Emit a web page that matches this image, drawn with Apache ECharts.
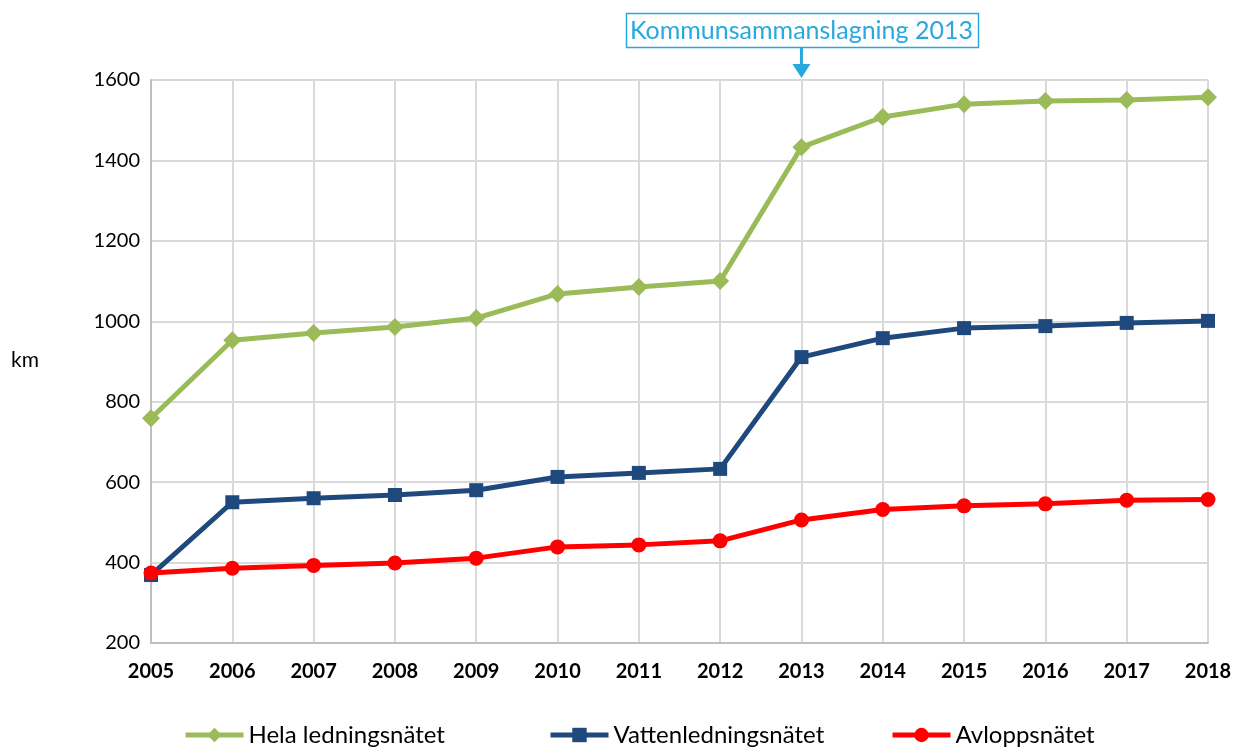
<!DOCTYPE html>
<html><head><meta charset="utf-8">
<script src="https://cdn.jsdelivr.net/npm/echarts@6/dist/echarts.min.js"></script>
<style>html,body{margin:0;padding:0;background:#fff}#c{width:1235px;height:754px}</style>
</head><body><div id="c"></div>
<script>
const years = ['2005','2006','2007','2008','2009','2010','2011','2012','2013','2014','2015','2016','2017','2018'];
const hela = [759,953,971,986,1008,1068,1085,1100,1433,1508,1540,1548,1550,1557];
const vatten = [369,550,560,568,580,613,623,633,911,958,983,988,996,1001];
const avlopp = [374,386,393,399,411,439,444,454,506,532,541,546,555,557];
const seriesNames = ['Hela ledningsnätet','Vattenledningsnätet','Avloppsnätet'];
const annotationYear = '2013';
const annotationText = 'Kommunsammanslagning 2013';
const FONT = 'Lato, "Open Sans", sans-serif';
const legendLefts = [178, 543, 885];

const chart = echarts.init(document.getElementById('c'));
chart.setOption({
  animation:false,
  grid:{left:151,right:27,top:80,bottom:111,containLabel:false},
  legend: seriesNames.map((n,i)=>({bottom:2,left:legendLefts[i],itemWidth:58,itemHeight:18,
    lineStyle:{width:5},
    textStyle:{fontFamily:FONT,fontSize:24,color:'#000'},data:[n]})),
  xAxis:{type:'category',data:years,boundaryGap:false,
    axisLine:{lineStyle:{color:'#bfbfbf',width:2}},axisTick:{show:false},
    axisLabel:{fontFamily:FONT,fontWeight:'bold',fontSize:20,color:'#000',margin:19},
    splitLine:{show:true,lineStyle:{color:'#d9d9d9',width:2}}},
  yAxis:{type:'value',min:200,max:1600,interval:200,
    axisLine:{show:true,lineStyle:{color:'#bfbfbf',width:2}},axisTick:{show:false},
    axisLabel:{fontFamily:FONT,fontSize:20,color:'#000',margin:11,formatter:v=>String(v)},
    splitLine:{lineStyle:{color:'#d9d9d9',width:2}}},
  series:[
    {name:seriesNames[0],type:'line',data:hela,symbol:'diamond',symbolSize:18,
     lineStyle:{width:5,color:'#9bbb59'},itemStyle:{color:'#9bbb59'}},
    {name:seriesNames[1],type:'line',data:vatten,symbol:'rect',symbolSize:14,
     lineStyle:{width:5,color:'#1f497d'},itemStyle:{color:'#1f497d'}},
    {name:seriesNames[2],type:'line',data:avlopp,symbol:'circle',symbolSize:15,
     lineStyle:{width:5,color:'#ff0000'},itemStyle:{color:'#ff0000'}}
  ]
});
const px = chart.convertToPixel({xAxisIndex:0}, annotationYear);
const topY = chart.convertToPixel({yAxisIndex:0}, 1600);
chart.setOption({graphic:[
  {type:'text',left:11,top:350,style:{text:'km',font:'21px '+FONT,fill:'#000'}},
  {type:'rect',shape:{x:626.5,y:13.5,width:352,height:34},style:{fill:'#fff',stroke:'#29a8e0',lineWidth:1.5}},
  {type:'text',x:px,y:31,style:{text:annotationText,font:'25px '+FONT,fill:'#29a8e0',verticalAlign:'middle',align:'center'}},
  {type:'line',shape:{x1:px,y1:48,x2:px,y2:topY-14},style:{stroke:'#29a8e0',lineWidth:3}},
  {type:'polygon',shape:{points:[[px-9,topY-16],[px+9,topY-16],[px,topY-2]]},style:{fill:'#29a8e0'}}
]});
</script></body></html>
